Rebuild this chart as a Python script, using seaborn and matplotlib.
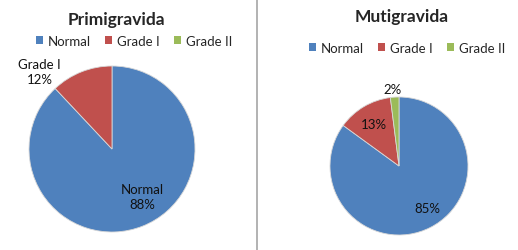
import matplotlib
matplotlib.use("Agg")
import matplotlib.pyplot as plt
import seaborn as sns
from matplotlib.patches import Patch
from matplotlib.lines import Line2D

# data
categories = ["Normal", "Grade I", "Grade II"]
primi_values = [88, 12, 0]
multi_values = [85, 13, 2]

sns.set_theme(style="white")
plt.rcParams['font.family'] = ['Lato', 'DejaVu Sans']

colors = ["#4F81BD", "#C0504D", "#9BBB59"]
W, H = 518, 251

fig = plt.figure(figsize=(W / 100, H / 100), dpi=100)
fig.patch.set_facecolor("white")


def pie_axes(cx, cy, r):
    # axes placed so the pie of radius 1 sits at pixel centre (cx, cy)
    ax = fig.add_axes([(cx - r) / W, (H - cy - r) / H, 2 * r / W, 2 * r / H])
    ax.axis("off")
    return ax


# left pie: Primigravida
ax1 = pie_axes(112, 150, 83)
ax1.pie(primi_values[:2], colors=colors[:2], startangle=90, counterclock=False,
        wedgeprops=dict(edgecolor="#d8d8d8", linewidth=0.6))
ax1.set_xlim(-1, 1)
ax1.set_ylim(-1, 1)
ax1.set_aspect("auto")
ax1.text(0.37, -0.57, f"{categories[0]}\n{primi_values[0]}%", ha="center", va="center",
         fontsize=9.5, linespacing=1.3, color="#111111")
ax1.text(-0.87, 0.93, f"{categories[1]}\n{primi_values[1]}%", ha="center", va="center",
         fontsize=9.5, linespacing=1.3, color="#111111", clip_on=False)

# right pie: Mutigravida
ax2 = pie_axes(399, 167, 69)
ax2.pie(multi_values, colors=colors, startangle=90, counterclock=False,
        wedgeprops=dict(edgecolor="#d8d8d8", linewidth=0.6))
ax2.set_xlim(-1, 1)
ax2.set_ylim(-1, 1)
ax2.set_aspect("auto")
label_pos = [(0.41, -0.61), (-0.36, 0.61), (-0.09, 1.12)]
for (x, y), v in zip(label_pos, multi_values):
    ax2.text(x, y, f"{v}%", ha="center", va="center", fontsize=9.5,
             color="#111111", clip_on=False)

# titles
fig.text(116 / W, 1 - 20 / H, "Primigravida", ha="center", va="center",
         fontsize=12.5, fontweight="bold")
fig.text(402 / W, 1 - 17 / H, "Mutigravida", ha="center", va="center",
         fontsize=12.5, fontweight="bold")

# legends
handles = [Patch(facecolor=c, edgecolor="none") for c in colors]
for cx, cy in [(134, 42), (407, 49)]:
    fig.legend(handles, categories, loc="center", bbox_to_anchor=(cx / W, 1 - cy / H),
               ncol=3, frameon=False, fontsize=9.5, handlelength=0.55, handleheight=0.55,
               handletextpad=0.35, columnspacing=1.1, borderaxespad=0)

# divider between the two panels
fig.add_artist(Line2D([256.5 / W, 256.5 / W], [0, 1], color="#a6a6a6", linewidth=1.2))

fig.savefig("out.png", dpi=100)
